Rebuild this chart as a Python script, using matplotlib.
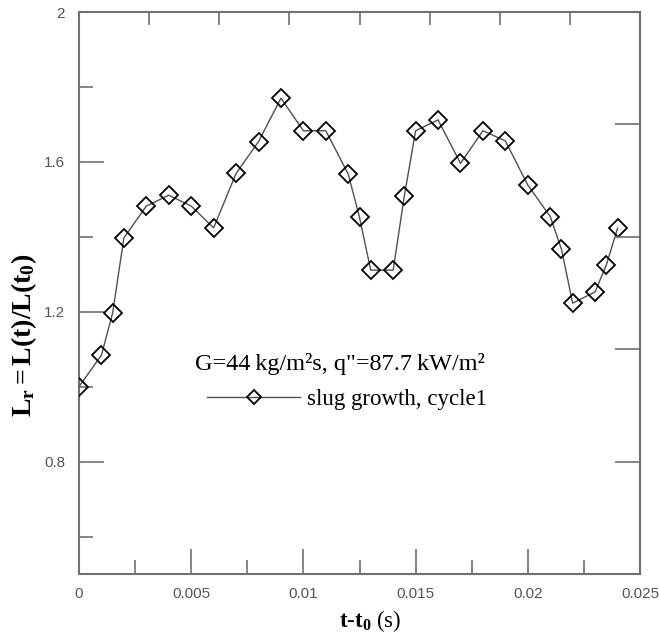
import matplotlib
matplotlib.use("Agg")
import matplotlib.pyplot as plt
from matplotlib.ticker import MultipleLocator, FixedLocator

# data
t = [0, 0.001, 0.0015, 0.002, 0.003, 0.004, 0.005, 0.006, 0.007, 0.008,
     0.009, 0.010, 0.011, 0.012, 0.0125, 0.013, 0.014, 0.0145, 0.015, 0.016,
     0.017, 0.018, 0.019, 0.020, 0.021, 0.0215, 0.022, 0.023, 0.0235, 0.024]
Lr = [1.0, 1.084, 1.197, 1.397, 1.482, 1.511, 1.482, 1.424, 1.569, 1.654,
      1.770, 1.683, 1.683, 1.567, 1.452, 1.311, 1.311, 1.510, 1.683, 1.712,
      1.596, 1.683, 1.656, 1.538, 1.454, 1.367, 1.223, 1.253, 1.325, 1.423]
xticks = [0, 0.005, 0.01, 0.015, 0.02, 0.025]
xticklabels = ["0", "0.005", "0.01", "0.015", "0.02", "0.025"]
yticks = [0.8, 1.2, 1.6, 2.0]
yticklabels = ["0.8", "1.2", "1.6", "2"]
right_ticks = [0.8, 1.1, 1.4, 1.7]
top_ticks = [0.003125 * k for k in range(1, 8)]

plt.rcParams['mathtext.fontset'] = 'custom'
plt.rcParams['mathtext.rm'] = 'Liberation Serif'
plt.rcParams['mathtext.bf'] = 'Liberation Serif:bold'
plt.rcParams['mathtext.it'] = 'Liberation Serif:italic'

fig = plt.figure(figsize=(6.59, 6.34), dpi=100)
ax = fig.add_axes([79/659, 60/634, (640-79)/659, (574-12)/634])

spine_c = '#707070'
ax.plot(t, Lr, color='#505050', lw=1.0, marker='D', markersize=9.5,
        markerfacecolor='none', markeredgecolor='black', markeredgewidth=1.3,
        label='slug growth, cycle1', zorder=3)

ax.set_xlim(0, 0.025)
ax.set_ylim(0.5, 2.0)
ax.set_xticks(xticks)
ax.set_xticklabels(xticklabels)
ax.set_yticks(yticks)
ax.set_yticklabels(yticklabels)
ax.xaxis.set_minor_locator(MultipleLocator(0.0025))
ax.yaxis.set_minor_locator(MultipleLocator(0.2))
ax.tick_params(which='major', direction='in', length=18, width=1.2, color=spine_c,
               labelsize=11, labelcolor='#555555', pad=10)
ax.tick_params(axis='x', which='major', pad=9)
ax.tick_params(which='minor', direction='in', length=10, width=1.2, color=spine_c)
for lab in ax.get_xticklabels() + ax.get_yticklabels():
    lab.set_family('Liberation Sans')
for s in ax.spines.values():
    s.set_color(spine_c)
    s.set_linewidth(1.5)

# right-side ticks
axr = ax.twinx()
axr.set_ylim(0.5, 2.0)
axr.yaxis.set_major_locator(FixedLocator(right_ticks))
axr.tick_params(which='major', direction='in', length=18, width=1.2, color=spine_c,
                labelright=False)
for s in axr.spines.values():
    s.set_visible(False)

# top ticks
axt = ax.twiny()
axt.set_xlim(0, 0.025)
axt.xaxis.set_major_locator(FixedLocator(top_ticks))
axt.tick_params(which='major', direction='in', length=9, width=1.2, color=spine_c,
                labeltop=False)
for s in axt.spines.values():
    s.set_visible(False)

ax.set_xlabel(r'$\mathbf{t\text{-}t_0}$ (s)', family='Liberation Serif', fontsize=16.5)
ax.xaxis.set_label_coords(0.52, -0.06)
ax.set_ylabel(r'$\mathbf{L_r{=}L(t)/L(t_0)}$', family='Liberation Serif', fontsize=20)
ax.yaxis.set_label_coords(-0.072, 0.425)

ax.text(0.465, 0.374, 'G=44\u2009kg/m²s, q"=87.7\u2009kW/m²', family='Liberation Serif',
        fontsize=17.5, ha='center', va='center', transform=ax.transAxes)
leg = ax.legend(loc='center left', bbox_to_anchor=(0.212, 0.31), frameon=False,
                prop={'family': 'Liberation Serif', 'size': 16.5},
                handlelength=4.05, handletextpad=0.3, borderaxespad=0,
                markerscale=0.75)

fig.savefig('out.png', dpi=100)
